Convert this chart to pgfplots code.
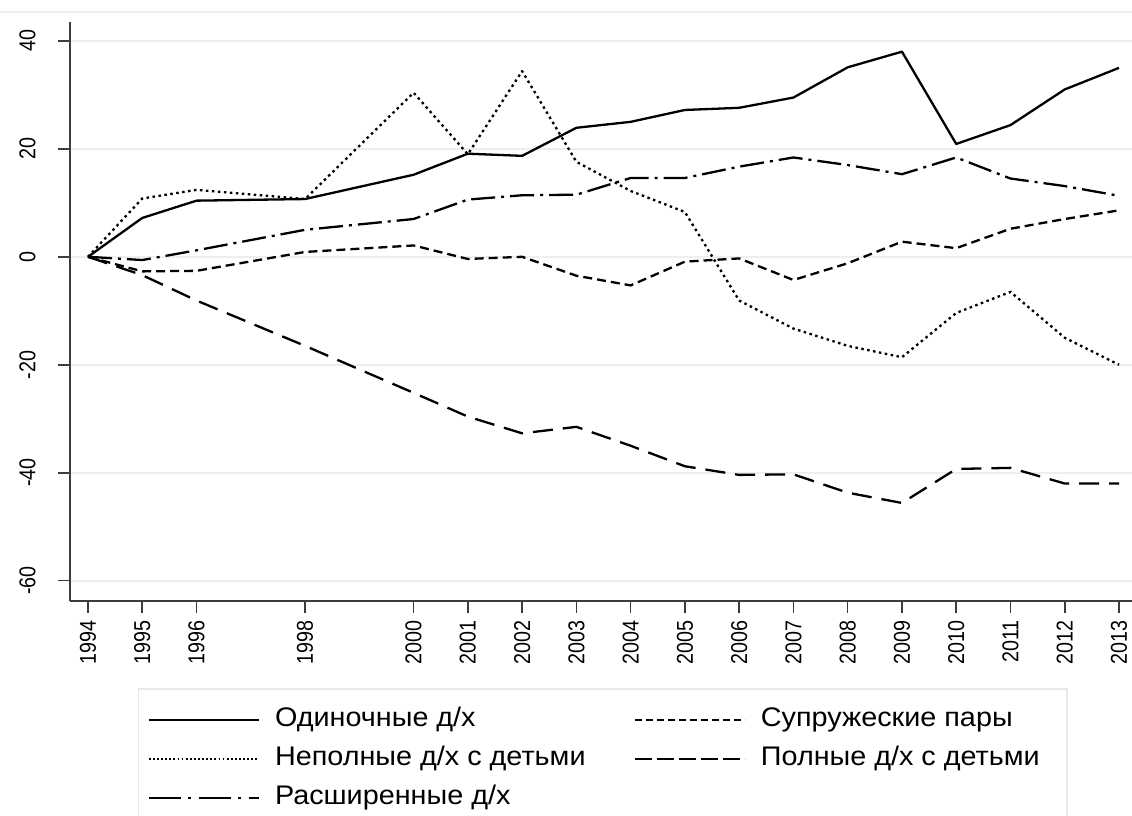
\documentclass[border=0pt]{standalone}
\usepackage{pgfplots}
\pgfplotsset{compat=1.18}
\usepackage{fontspec}
\setmainfont{Liberation Sans}
\newfontfamily\legfont[FakeStretch=1.07]{Liberation Sans}
\newfontfamily\tickfont[FakeStretch=0.86]{Liberation Sans}
\definecolor{gridc}{RGB}{232,241,241}
\definecolor{legc}{RGB}{228,234,234}
\definecolor{axc}{RGB}{60,60,60}

\pgfplotstableread{
year odin supr nepol poln rassh
1994 0    0    0     0     0
1995 7.2  -2.7 10.8  -3.4  -0.6
1996 10.4 -2.6 12.4  -8.1  1.2
1998 10.7 0.9  10.7  -16.5 5.0
2000 15.2 2.1  30.4  -25.2 7.0
2001 19.1 -0.4 19.0  -29.6 10.6
2002 18.7 0.0  34.4  -32.7 11.4
2003 23.9 -3.5 17.6  -31.5 11.5
2004 25.0 -5.3 12.2  -35.0 14.6
2005 27.2 -0.9 8.3   -38.8 14.6
2006 27.6 -0.3 -8.1  -40.4 16.7
2007 29.5 -4.3 -13.3 -40.3 18.4
2008 35.1 -1.2 -16.5 -43.7 17.0
2009 38.0 2.8  -18.6 -45.6 15.3
2010 20.9 1.6  -10.4 -39.3 18.4
2011 24.4 5.2  -6.5  -39.1 14.5
2012 31.0 7.0  -15.0 -42.0 13.1
2013 35.0 8.6  -20.0 -42.0 11.3
}\data

\begin{document}
\begin{tikzpicture}[x=1bp,y=1bp]
\useasboundingbox (0,0) rectangle (1132,816);
\clip (0,0) rectangle (1132,816);
\fill[white] (0,0) rectangle (1132,816);
\draw[gridc, line width=2bp] (0,804) -- (1132,804);
\begin{axis}[
  at={(70bp,215bp)}, anchor=south west,
  scale only axis, width=1062bp, height=579bp,
  xmin=1993.668, xmax=2013.24, ymin=-63.76, ymax=43.5,
  axis x line*=bottom, axis y line*=left,
  axis line style={line width=1.6bp, axc, -},
  xtick={1994,1995,1996,1998,2000,2001,2002,2003,2004,2005,2006,2007,2008,2009,2010,2011,2012,2013},
  ytick={-60,-40,-20,0,20,40},
  ymajorgrids, grid style={gridc, line width=2bp},
  tick align=outside, major tick length=12bp,
  tick style={line width=1.6bp, axc},
  /pgf/number format/assume math mode=true,
  xticklabel shift=4bp,
  yticklabel shift=19bp,
  tick label style={font=\tickfont\fontsize{23}{27}\selectfont},
  x tick label style={/pgf/number format/1000 sep={}, rotate=90, anchor=east},
  y tick label style={rotate=90, anchor=south},
  legend columns=2,
  legend cell align=left,
  legend style={at={(0.064,-0.1503)}, anchor=north west, draw=legc, line width=1.5bp,
    font=\legfont\fontsize{27}{30}\selectfont, inner xsep=9bp, inner ysep=18bp,
    row sep=12bp,
    nodes={text height=20bp, text depth=7bp, inner ysep=0bp, inner xsep=0bp},
    /tikz/every odd column/.append style={column sep=15bp},
    /tikz/every even column/.append style={column sep=48bp}},
  legend image code/.code={\draw[#1] (0bp,0bp) -- (110bp,0bp);},
]
\addplot[black, line width=2.3bp, line join=round, no marks, forget plot] table[x=year, y=odin] {\data};
\addplot[black, line width=2.3bp, line join=round, no marks, forget plot, dash pattern=on 9bp off 5bp] table[x=year, y=supr] {\data};
\addplot[black, line width=2.3bp, line join=round, no marks, forget plot, dash pattern=on 2.5bp off 3.5bp] table[x=year, y=nepol] {\data};
\addplot[black, line width=2.3bp, line join=round, no marks, forget plot, dash pattern=on 20bp off 10bp] table[x=year, y=poln] {\data};
\addplot[black, line width=2.3bp, line join=round, no marks, forget plot, dash pattern=on 24bp off 6bp on 3bp off 6bp] table[x=year, y=rassh] {\data};

\addlegendimage{black, line width=2.3bp}
\addlegendentry{Одиночные д/х}
\addlegendimage{black, line width=2.3bp, dash pattern=on 7bp off 4bp}
\addlegendentry{Супружеские пары}
\addlegendimage{black, line width=2.3bp, dash pattern=on 1.8bp off 2.3bp}
\addlegendentry{Неполные д/х с детьми}
\addlegendimage{black, line width=2.3bp, dash pattern=on 17bp off 5bp}
\addlegendentry{Полные д/х с детьми\rule{18bp}{0pt}}
\addlegendimage{black, line width=2.3bp, dash pattern=on 32bp off 7bp on 3bp off 8bp}
\addlegendentry{Расширенные д/х}
\end{axis}
\end{tikzpicture}
\end{document}
